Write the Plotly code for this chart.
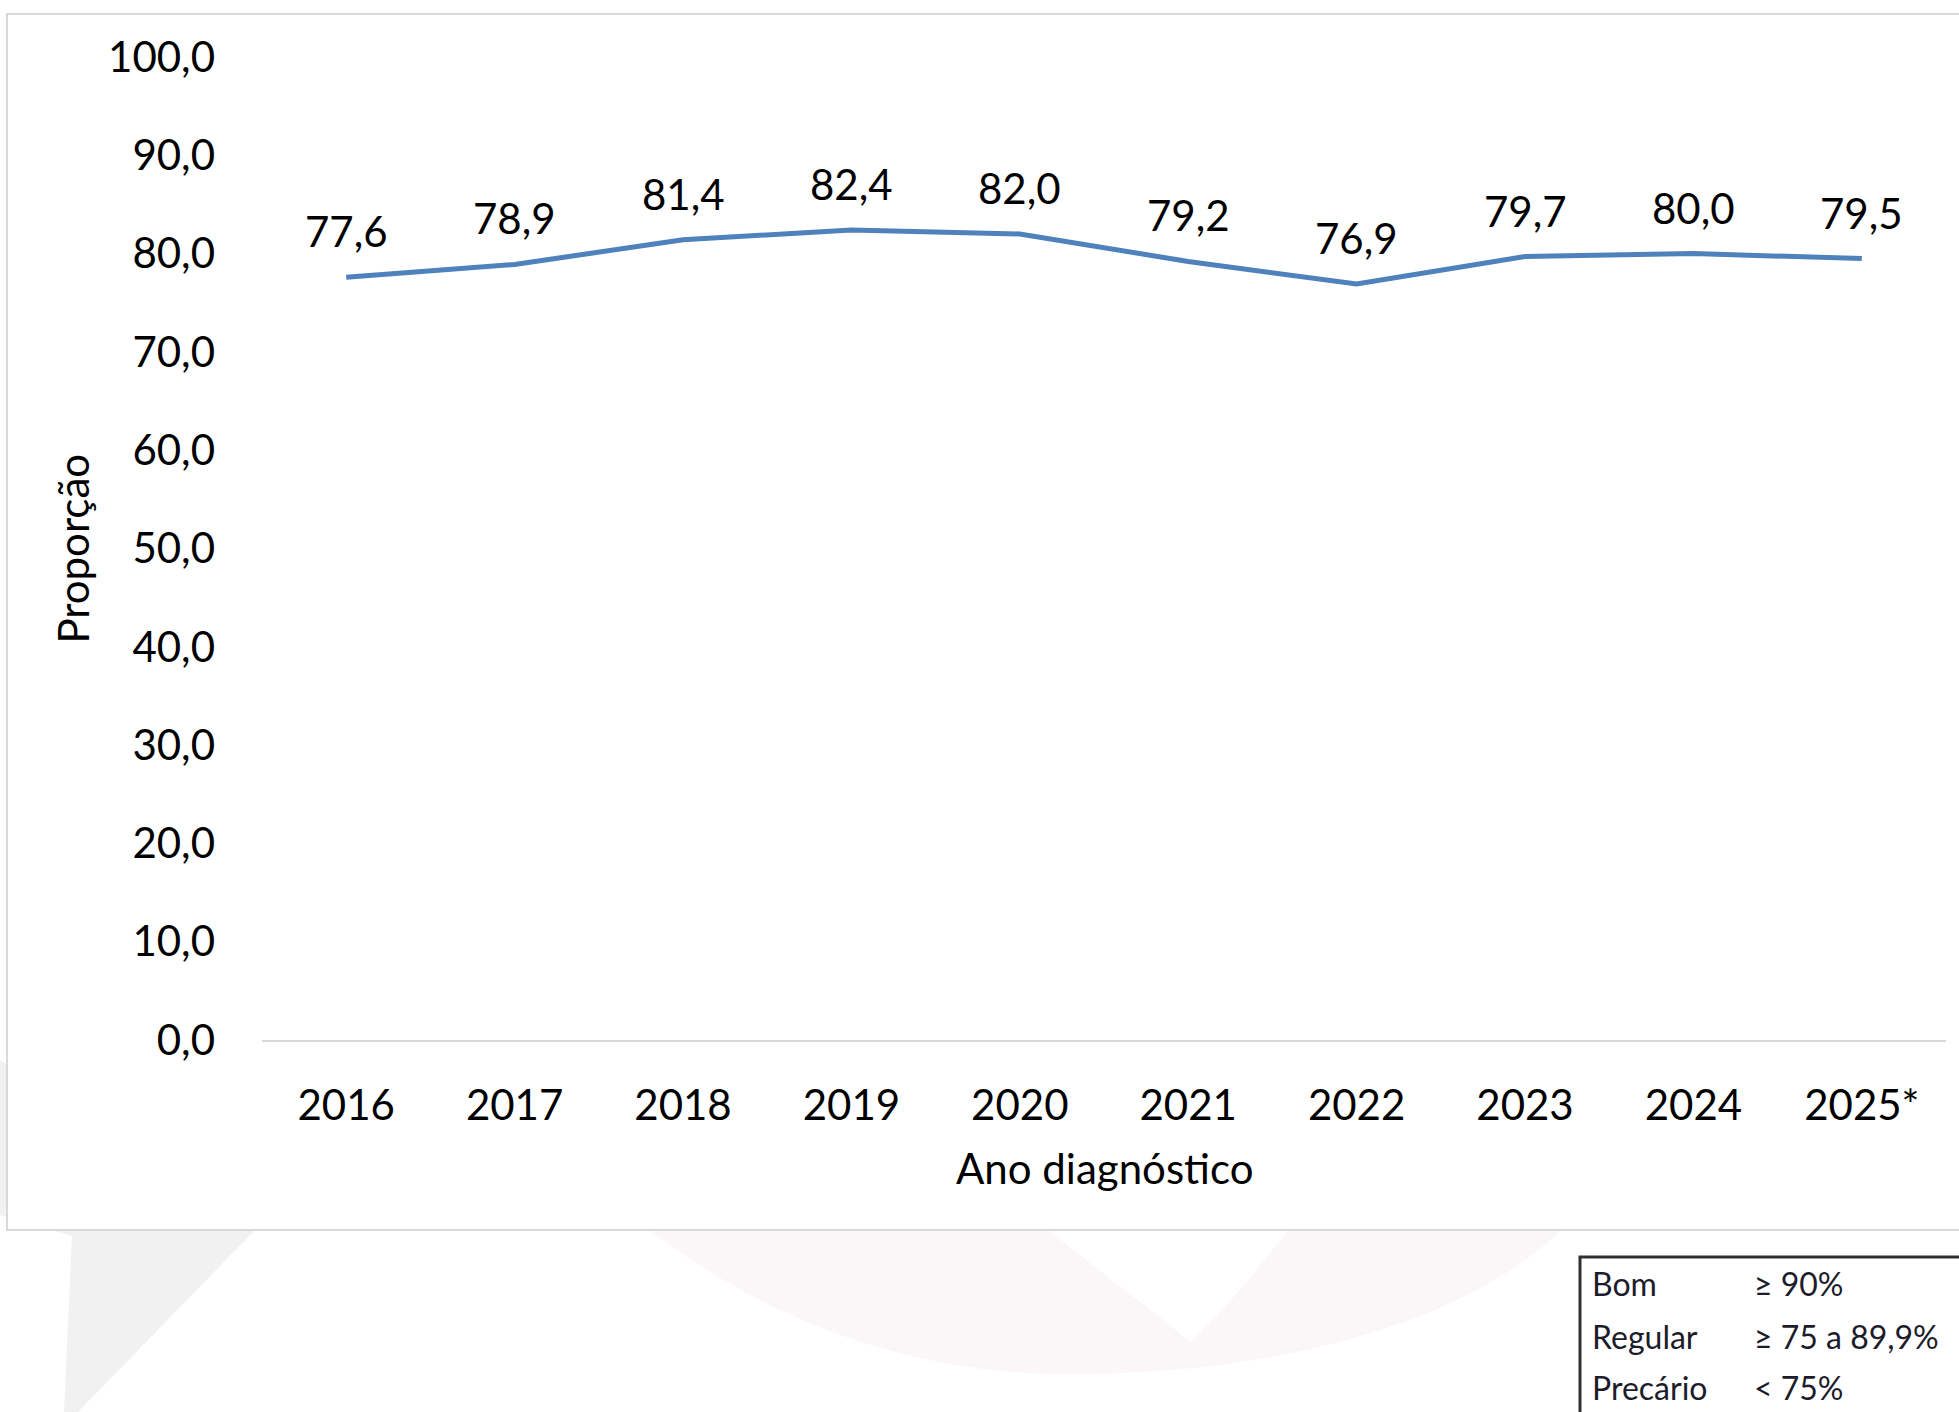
import plotly.graph_objects as go

# ---- data ----
anos = ["2016", "2017", "2018", "2019", "2020", "2021", "2022", "2023", "2024", "2025*"]
proporcao = [77.6, 78.9, 81.4, 82.4, 82.0, 79.2, 76.9, 79.7, 80.0, 79.5]
y_ticks = [0, 10, 20, 30, 40, 50, 60, 70, 80, 90, 100]
legenda_classes = ["Bom", "Regular", "Precário"]
legenda_faixas = ["≥ 90%", "≥ 75 a 89,9%", "< 75%"]

# ---- layout geometry (pixels) ----
W, H = 1959, 1412
ML, MR, MT, MB = 262, 13, 57, 372
PW = W - ML - MR
PH = H - MT - MB
FONT = "Lato, 'Open Sans', sans-serif"
TXT = "#000000"


def X(px):
    return (px - ML) / PW


def Y(py):
    return (H - MB - py) / PH


idx = list(range(len(anos)))

fig = go.Figure()
fig.add_trace(go.Scatter(
    x=idx, y=proporcao, mode="lines",
    line=dict(color="#4f81bd", width=5),
    hoverinfo="skip", showlegend=False,
))

# data labels
for i, v in zip(idx, proporcao):
    fig.add_annotation(
        x=i, y=v, xref="x", yref="y", yshift=46,
        text=f"{v:.1f}".replace(".", ","), showarrow=False,
        font=dict(family=FONT, size=42, color=TXT),
    )

shapes = []
# faint watermark: gray wedge
shapes.append(dict(
    type="path", xref="paper", yref="paper", layer="below",
    path=(f"M {X(0)},{Y(1060)} L {X(255)},{Y(1230)} L {X(78)},{Y(1412)} "
          f"L {X(64)},{Y(1412)} L {X(72)},{Y(1236)} L {X(0)},{Y(1215)} Z"),
    fillcolor="rgba(205,205,210,0.28)", line=dict(width=0),
))
# faint watermark: pink ribbon
shapes.append(dict(
    type="path", xref="paper", yref="paper", layer="below",
    path=(f"M {X(650)},{Y(1230)} "
          f"C {X(740)},{Y(1300)} {X(880)},{Y(1372)} {X(1060)},{Y(1374)} "
          f"C {X(1280)},{Y(1376)} {X(1470)},{Y(1320)} {X(1561)},{Y(1230)} "
          f"L {X(1288)},{Y(1230)} "
          f"C {X(1250)},{Y(1280)} {X(1215)},{Y(1320)} {X(1190)},{Y(1342)} "
          f"C {X(1140)},{Y(1300)} {X(1090)},{Y(1265)} {X(1049)},{Y(1230)} Z"),
    fillcolor="rgba(230,200,212,0.16)", line=dict(width=0),
))
# chart box (white with light border)
shapes.append(dict(
    type="rect", xref="paper", yref="paper", layer="below",
    x0=X(7), x1=X(1975), y0=Y(1230), y1=Y(14),
    fillcolor="white", line=dict(color="#d9d9d9", width=2),
))
# legend box
shapes.append(dict(
    type="rect", xref="paper", yref="paper", layer="above",
    x0=X(1580), x1=X(1975), y0=Y(1425), y1=Y(1257),
    fillcolor="white", line=dict(color="#303030", width=3),
))
fig.update_layout(shapes=shapes)

legend_rows_y = [1283, 1336, 1387]
for cls, faixa, py in zip(legenda_classes, legenda_faixas, legend_rows_y):
    fig.add_annotation(x=X(1590), y=Y(py), xref="paper", yref="paper",
                       text=cls, showarrow=False, xanchor="left", yanchor="middle",
                       font=dict(family=FONT, size=32, color="#1c1c2a"))
    fig.add_annotation(x=X(1752), y=Y(py), xref="paper", yref="paper",
                       text=faixa, showarrow=False, xanchor="left", yanchor="middle",
                       font=dict(family=FONT, size=32, color="#1c1c2a"))

# axis titles
fig.add_annotation(x=0.5, y=Y(1168), xref="paper", yref="paper",
                   text="Ano diagnóstico", showarrow=False,
                   xanchor="center", yanchor="middle",
                   font=dict(family=FONT, size=42, color=TXT))
fig.add_annotation(x=X(72), y=0.5, xref="paper", yref="paper",
                   text="Proporção", showarrow=False, textangle=-90,
                   xanchor="center", yanchor="middle",
                   font=dict(family=FONT, size=42, color=TXT))

fig.update_layout(
    width=W, height=H,
    margin=dict(l=ML, r=MR, t=MT, b=MB, pad=0),
    paper_bgcolor="white",
    plot_bgcolor="rgba(0,0,0,0)",
    separators=",.",
    showlegend=False,
    font=dict(family=FONT, size=42, color=TXT),
    xaxis=dict(
        range=[-0.5, len(anos) - 0.5], tickvals=idx, ticktext=anos,
        showgrid=False, zeroline=False,
        showline=True, linecolor="#d9d9d9", linewidth=2,
        ticks="", ticklabelstandoff=28,
        tickfont=dict(family=FONT, size=42, color=TXT),
        fixedrange=True,
    ),
    yaxis=dict(
        range=[0, 100], tickvals=y_ticks, tickformat=".1f",
        showgrid=False, zeroline=False, showline=False,
        ticks="", ticklabelstandoff=46,
        tickfont=dict(family=FONT, size=42, color=TXT),
        fixedrange=True,
    ),
)

fig.write_html("out.html")
